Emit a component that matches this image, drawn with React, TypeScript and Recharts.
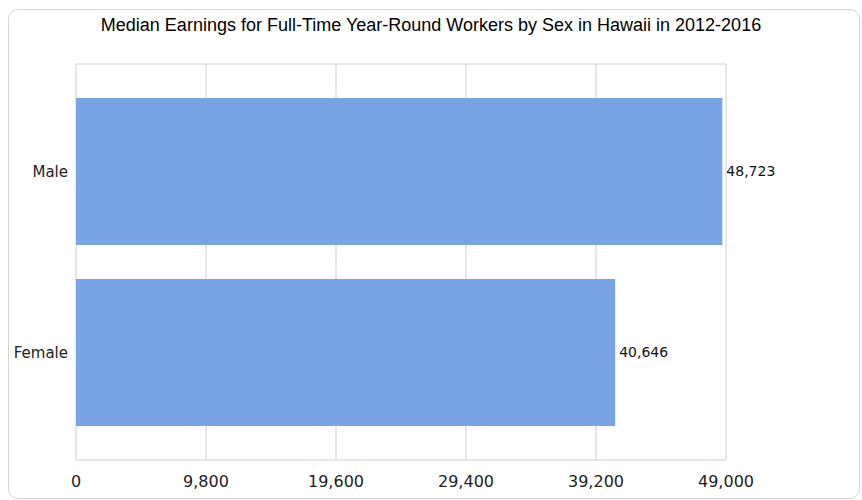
import { BarChart, Bar, XAxis, YAxis, CartesianGrid, LabelList } from "recharts";

const categories = ["Male", "Female"];
const earnings = [48723, 40646];
const xTicks = [0, 9800, 19600, 29400, 39200, 49000];

const data = categories.map((name, i) => ({ name, value: earnings[i] }));

const fmt = (v: number) => v.toLocaleString("en-US");

const tickFont = "'DejaVu Sans', Verdana, sans-serif";

export default function App() {
  return (
    <div style={{ position: "absolute", left: 0, top: 0, width: 862, height: 500, overflow: "hidden", background: "#fff" }}>
      <div
        style={{
          position: "absolute",
          left: 8,
          top: 9,
          width: 850,
          height: 488,
          border: "1px solid #d6d6d6",
          borderRadius: 10,
        }}
      />
      <div
        style={{
          position: "absolute",
          left: 0,
          top: 15,
          width: 862,
          textAlign: "center",
          fontFamily: "'Liberation Sans', Arial, sans-serif",
          fontSize: 18,
          color: "#000",
        }}
      >
        Median Earnings for Full-Time Year-Round Workers by Sex in Hawaii in 2012-2016
      </div>
      <div style={{ position: "absolute", left: 0, top: 0 }}>
        <BarChart
          width={862}
          height={500}
          data={data}
          layout="vertical"
          margin={{ top: 64, right: 136, bottom: 0, left: 0 }}
          barSize={147}
        >
          <CartesianGrid
            stroke="#cfcfcf"
            horizontalCoordinatesGenerator={({ offset }: any) => [offset.top, offset.top + offset.height]}
          />
          <XAxis
            type="number"
            domain={[0, 49000]}
            ticks={xTicks}
            tickFormatter={fmt}
            axisLine={false}
            tickLine={false}
            tickMargin={10}
            height={40}
            interval={0}
            tick={{ fontFamily: tickFont, fontSize: 16, fill: "#222" }}
          />
          <YAxis
            type="category"
            dataKey="name"
            width={76}
            axisLine={false}
            tickLine={false}
            padding={{ top: 17, bottom: 17 }}
            tick={{ fontFamily: tickFont, fontSize: 15, fill: "#222" }}
          />
          <Bar dataKey="value" fill="#78a3e5" isAnimationActive={false}>
            <LabelList
              dataKey="value"
              position="right"
              offset={4}
              formatter={(v: any) => fmt(Number(v))}
              style={{ fontFamily: tickFont, fontSize: 14, fill: "#111" }}
            />
          </Bar>
        </BarChart>
      </div>
    </div>
  );
}
